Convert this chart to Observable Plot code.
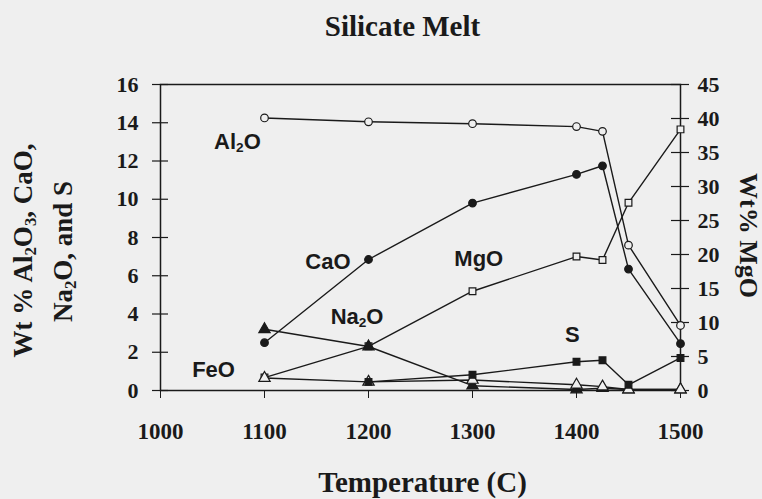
<!DOCTYPE html>
<html><head><meta charset="utf-8">
<script src="https://cdn.jsdelivr.net/npm/d3@7"></script>
<script src="https://cdn.jsdelivr.net/npm/@observablehq/plot@0.6"></script>
<style>
html,body{margin:0;padding:0;background:#efefef;}
</style></head><body><div id="chart"></div>
<script>
// Temperature (C)
const temps = [1100, 1200, 1300, 1400, 1425, 1450, 1500];
// Left axis series (wt %)
const al2o3 = [14.25, 14.05, 13.95, 13.8, 13.55, 7.6, 3.4];
const cao   = [2.5, 6.85, 9.8, 11.3, 11.75, 6.35, 2.45];
const na2o  = [3.2, 2.3, 0.25, 0.05, 0.12, 0.05, 0.05];
const feo   = [0.65, 0.45, 0.55, 0.3, 0.2, 0.05, 0.05];
const sulf  = [null, 0.45, 0.82, 1.5, 1.58, 0.3, 1.7];
// Right axis series (wt % MgO)
const mgo   = [1.9, 6.5, 14.6, 19.7, 19.2, 27.6, 38.4];

const xTicks = [1000, 1100, 1200, 1300, 1400, 1500];
const yTicks = [0, 2, 4, 6, 8, 10, 12, 14, 16];
const y2Ticks = [0, 5, 10, 15, 20, 25, 30, 35, 40, 45];

const seriesLabels = [
  {text: "Al_2O", t: 1074, v: 13.0},
  {text: "CaO", t: 1161, v: 6.7},
  {text: "Na_2O", t: 1189, v: 3.87},
  {text: "FeO", t: 1051, v: 1.1},
  {text: "MgO", t: 1306, v: 6.9},
  {text: "S", t: 1396, v: 2.88}
];

const K = 16 / 45; // right-axis (MgO) to left-axis units
const rows = (vals, k = 1) => temps.map((t, i) => ({t, v: vals[i] == null ? NaN : vals[i] * k}));

const BG = "#efefef", INK = "#1a1a1a";
const serif = "'Liberation Serif', 'Times New Roman', serif";
const sans = "'Liberation Sans', Arial, sans-serif";

const series = [
  {data: rows(al2o3), symbol: "circle", fill: BG, r: 3.8},
  {data: rows(cao), symbol: "circle", fill: INK, r: 3.8},
  {data: rows(mgo, K), symbol: "square", fill: BG, r: 3.8},
  {data: rows(na2o), symbol: "triangle", fill: INK, r: 4.2},
  {data: rows(feo), symbol: "triangle", fill: BG, r: 4.2},
  {data: rows(sulf), symbol: "square", fill: INK, r: 3.8}
];

const y2Scaled = y2Ticks.map(v => v * K);
const marks = [
  Plot.frame({stroke: INK, strokeWidth: 1.5}),
  // crossing tick marks on both vertical axes
  Plot.ruleY(yTicks, {x1: 1000, x2: 1000, insetLeft: -8, insetRight: -8, stroke: INK, strokeWidth: 1.2}),
  Plot.ruleY(y2Scaled, {x1: 1500, x2: 1500, insetLeft: -9, insetRight: -9, stroke: INK, strokeWidth: 1.2}),
  Plot.axisX({ticks: xTicks, tickSize: 8, tickPadding: 24, tickFormat: d => String(d), label: null, stroke: INK, fill: INK, fontSize: 23}),
  Plot.axisY({ticks: yTicks, tickSize: 0, tickPadding: 22, label: null, fill: INK, fontSize: 22}),
  Plot.axisY(y2Scaled, {anchor: "right", tickSize: 0, tickPadding: 17, tickFormat: d => String(Math.round(d / K)), label: null, fill: INK, fontSize: 22})
];
for (const s of series) {
  marks.push(Plot.line(s.data, {x: "t", y: "v", stroke: INK, strokeWidth: 1.4}));
}
for (const s of series) {
  marks.push(Plot.dot(s.data, {x: "t", y: "v", symbol: s.symbol, r: s.r, fill: s.fill, stroke: INK, strokeWidth: 1.2}));
}
marks.push(Plot.text(seriesLabels, {x: "t", y: "v", text: "text", fontFamily: sans, fontWeight: "bold", fontSize: 22, fill: INK, textAnchor: "middle", lineAnchor: "middle"}));
marks.push(Plot.text(["Silicate Melt"], {frameAnchor: "top", dx: -18, dy: -58, fontSize: 29, fill: INK, textAnchor: "middle", lineAnchor: "middle"}));
marks.push(Plot.text(["Temperature (C)"], {frameAnchor: "bottom", dx: 2, dy: 92, fontSize: 29, fill: INK, textAnchor: "middle", lineAnchor: "middle"}));
marks.push(Plot.text(["Wt % Al_2O_3, CaO,"], {frameAnchor: "left", dx: -137, dy: 13, rotate: -90, fontSize: 27, fill: INK, textAnchor: "middle", lineAnchor: "middle"}));
marks.push(Plot.text(["Na_2O, and S"], {frameAnchor: "left", dx: -97, dy: 14, rotate: -90, fontSize: 27, fill: INK, textAnchor: "middle", lineAnchor: "middle"}));
marks.push(Plot.text(["Wt% MgO"], {frameAnchor: "right", dx: 68, dy: -2, rotate: 90, fontSize: 26, fill: INK, textAnchor: "middle", lineAnchor: "middle"}));

const chart = Plot.plot({
  width: 762, height: 499,
  marginLeft: 160, marginRight: 82, marginTop: 84, marginBottom: 109,
  x: {domain: [1000, 1500]},
  y: {domain: [0, 16]},
  style: {background: BG, fontFamily: serif, fontSize: "22px", fontWeight: "bold", color: INK},
  marks
});

// subscripts: "_d" -> lowered small digit
const NS = "http://www.w3.org/2000/svg";
chart.querySelectorAll("text").forEach(t => {
  const leaves = t.querySelectorAll("tspan").length ? [...t.querySelectorAll("tspan")] : [t];
  leaves.forEach(el => {
    const s = el.textContent;
    if (!s.includes("_")) return;
    el.textContent = "";
    s.split(/_(\d)/).forEach((p, i) => {
      if (!p) return;
      const ts = document.createElementNS(NS, "tspan");
      ts.textContent = p;
      if (i % 2 === 1) { ts.setAttribute("font-size", "62%"); ts.setAttribute("baseline-shift", "-22%"); }
      el.appendChild(ts);
    });
  });
});
document.getElementById("chart").appendChild(chart);
</script></body></html>
